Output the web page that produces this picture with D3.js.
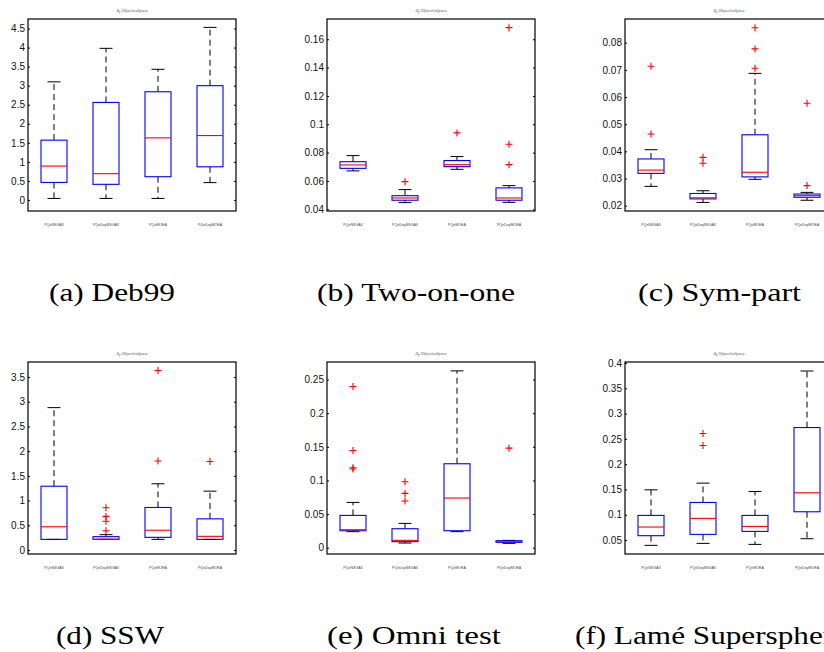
<!DOCTYPE html>
<html>
<head>
<meta charset="utf-8">
<script src="https://cdn.jsdelivr.net/npm/d3@7"></script>
<style>
  html, body { margin: 0; padding: 0; background: #fff; }
  svg { display: block; }
  .tick text { font-family: "Liberation Sans", Arial, Helvetica, sans-serif; }
  .caption { font-family: "Liberation Serif", "Times New Roman", "DejaVu Serif", serif; }
  .mlabel { font-family: "Liberation Sans", Arial, sans-serif; }
  .ptitle { font-family: "Liberation Serif", "DejaVu Serif", serif; font-style: italic; }
</style>
</head>
<body>
<svg id="fig" width="824" height="652"></svg>
<script>
// Methods compared in every panel
const methods = ["PQeNSGAII", "PQeDoyNSGAII", "PQeMOEA", "PQeDoyMOEA"];

// Box statistics per method: [lower whisker, Q1, median, Q3, upper whisker]
const deb99Stats = [
  [0.04, 0.46, 0.89, 1.57, 3.10],
  [0.04, 0.41, 0.69, 2.56, 3.98],
  [0.04, 0.61, 1.63, 2.84, 3.43],
  [0.455, 0.87, 1.69, 3.00, 4.53]
];
const deb99Outliers = [[], [], [], []];
const deb99Ticks = [0, 0.5, 1, 1.5, 2, 2.5, 3, 3.5, 4, 4.5];
const deb99Lim = [-0.29, 4.75];

const twoOnOneStats = [
  [0.0671, 0.0689, 0.0713, 0.0736, 0.0779],
  [0.0447, 0.0464, 0.0480, 0.0496, 0.0539],
  [0.0682, 0.0701, 0.0715, 0.0744, 0.0772],
  [0.0449, 0.0464, 0.0480, 0.0551, 0.0567]
];
const twoOnOneOutliers = [[], [0.0595], [0.0939], [0.1682, 0.0859, 0.0715]];
const twoOnOneTicks = [0.04, 0.06, 0.08, 0.1, 0.12, 0.14, 0.16];
const twoOnOneLim = [0.0388, 0.1743];

const symPartStats = [
  [0.0271, 0.0319, 0.0331, 0.0372, 0.0406],
  [0.0212, 0.0225, 0.0229, 0.0245, 0.0255],
  [0.0297, 0.0306, 0.0323, 0.0461, 0.0687],
  [0.0220, 0.0231, 0.0237, 0.0243, 0.0249]
];
const symPartOutliers = [[0.0713, 0.0464], [0.0378, 0.0356], [0.0855, 0.0777, 0.0706], [0.0577, 0.0274]];
const symPartTicks = [0.02, 0.03, 0.04, 0.05, 0.06, 0.07, 0.08];
const symPartLim = [0.01805, 0.0887];

const sswStats = [
  [0.215, 0.215, 0.47, 1.29, 2.88],
  [0.215, 0.215, 0.22, 0.27, 0.31],
  [0.215, 0.256, 0.40, 0.86, 1.34],
  [0.215, 0.215, 0.276, 0.63, 1.19]
];
const sswOutliers = [[], [0.855, 0.68, 0.58, 0.39], [3.63, 1.80], [1.79]];
const sswTicks = [0, 0.5, 1, 1.5, 2, 2.5, 3, 3.5];
const sswLim = [-0.081, 3.803];

const omniStats = [
  [0.0238, 0.0252, 0.0267, 0.0480, 0.0673],
  [0.0069, 0.0089, 0.0109, 0.0282, 0.0361],
  [0.0238, 0.0252, 0.0738, 0.1248, 0.2629],
  [0.0064, 0.0079, 0.0089, 0.0104, 0.0109]
];
const omniOutliers = [[0.2396, 0.1446, 0.1188, 0.1170], [0.0980, 0.0807, 0.0693], [], [0.1480]];
const omniTicks = [0, 0.05, 0.1, 0.15, 0.2, 0.25];
const omniLim = [-0.0094, 0.2761];

const lameStats = [
  [0.0395, 0.0586, 0.0757, 0.0987, 0.1493],
  [0.0434, 0.0612, 0.0928, 0.1243, 0.1625],
  [0.0414, 0.0671, 0.0770, 0.0987, 0.1460],
  [0.0526, 0.1059, 0.1434, 0.2724, 0.3842]
];
const lameOutliers = [[], [0.2605, 0.2368], [], []];
const lameTicks = [0.05, 0.1, 0.15, 0.2, 0.25, 0.3, 0.35, 0.4];
const lameLim = [0.0224, 0.402];

// Sub-figure captions
const captions = ["(a) Deb99", "(b) Two-on-one", "(c) Sym-part", "(d) SSW", "(e) Omni test", "(f) Lamé Supersphere"];

const panels = [
  { stats: deb99Stats, out: deb99Outliers, ticks: deb99Ticks, lim: deb99Lim, x: 28, y: 19, cap: captions[0], cx: 49, cw: 126 },
  { stats: twoOnOneStats, out: twoOnOneOutliers, ticks: twoOnOneTicks, lim: twoOnOneLim, x: 327, y: 19, cap: captions[1], cx: 317, cw: 198 },
  { stats: symPartStats, out: symPartOutliers, ticks: symPartTicks, lim: symPartLim, x: 625, y: 19, cap: captions[2], cx: 638, cw: 163 },
  { stats: sswStats, out: sswOutliers, ticks: sswTicks, lim: sswLim, x: 28, y: 362, cap: captions[3], cx: 56, cw: 108 },
  { stats: omniStats, out: omniOutliers, ticks: omniTicks, lim: omniLim, x: 327, y: 362, cap: captions[4], cx: 327, cw: 174 },
  { stats: lameStats, out: lameOutliers, ticks: lameTicks, lim: lameLim, x: 625, y: 362, cap: captions[5], cx: 575, cw: 272 }
];

const W = 208, H = 192;
const svg = d3.select("#fig");
const fmt = d3.format("~g");

panels.forEach(p => {
  const g = svg.append("g").attr("transform", `translate(${p.x},${p.y})`);
  const x = d3.scaleLinear().domain([0.5, 4.5]).range([0, W]);
  const y = d3.scaleLinear().domain(p.lim).range([H, 0]);

  // inward ticks on both vertical sides, labels on the left only
  const left = g.append("g").call(
    d3.axisLeft(y).tickValues(p.ticks).tickSize(-2).tickPadding(3).tickFormat(fmt));
  left.select(".domain").remove();
  left.attr("font-family", null);
  left.selectAll("text").attr("font-size", 10).attr("fill", "#111");
  left.selectAll("line").attr("stroke", "#000");

  const right = g.append("g").attr("transform", `translate(${W},0)`).call(
    d3.axisRight(y).tickValues(p.ticks).tickSize(-2).tickFormat(""));
  right.select(".domain").remove();

  // axes frame
  g.append("rect").attr("width", W).attr("height", H)
    .attr("fill", "none").attr("stroke", "#000").attr("stroke-width", 1.2);

  const halfBox = x(1.25) - x(1);
  const halfCap = x(1.125) - x(1);

  p.stats.forEach((s, i) => {
    const cx = x(i + 1);
    const [lo, q1, med, q3, hi] = s;
    // dashed whiskers
    g.append("line").attr("x1", cx).attr("x2", cx).attr("y1", y(q3)).attr("y2", y(hi))
      .attr("stroke", "#000").attr("stroke-dasharray", "6,4");
    g.append("line").attr("x1", cx).attr("x2", cx).attr("y1", y(q1)).attr("y2", y(lo))
      .attr("stroke", "#000").attr("stroke-dasharray", "6,4");
    // whisker caps
    [lo, hi].forEach(v => {
      g.append("line").attr("x1", cx - halfCap).attr("x2", cx + halfCap)
        .attr("y1", y(v)).attr("y2", y(v)).attr("stroke", "#000").attr("stroke-width", 1);
    });
    // box
    g.append("rect").attr("x", cx - halfBox).attr("width", 2 * halfBox)
      .attr("y", y(q3)).attr("height", Math.max(0.5, y(q1) - y(q3)))
      .attr("fill", "none").attr("stroke", "#0000ff").attr("stroke-width", 1.1);
    // median
    g.append("line").attr("x1", cx - halfBox).attr("x2", cx + halfBox)
      .attr("y1", y(med)).attr("y2", y(med)).attr("stroke", "#ff0000").attr("stroke-width", 1.1);
    // outliers
    p.out[i].forEach(v => {
      const yy = y(v);
      g.append("path").attr("d", `M${cx - 3.5},${yy}H${cx + 3.5}M${cx},${yy - 3.5}V${yy + 3.5}`)
        .attr("stroke", "#ff0000").attr("stroke-width", 1.1).attr("fill", "none");
    });
    // method label
    g.append("text").attr("class", "mlabel").attr("x", cx).attr("y", H + 15)
      .attr("text-anchor", "middle").attr("font-size", 3.6)
      .attr("fill", "#444").text(methods[i]);
  });

  // small panel title
  const t = g.append("text").attr("class", "ptitle").attr("x", W / 2).attr("y", -7)
    .attr("text-anchor", "middle").attr("font-size", 4.2).attr("fill", "#555");
  t.append("tspan").text("Δ");
  t.append("tspan").attr("font-size", 3).attr("dy", 1).text("p");
  t.append("tspan").attr("dy", -1).text(" ObjectiveSpace");

  // caption below panel
  svg.append("text").attr("class", "caption").attr("x", p.cx).attr("y", p.y + 282)
    .attr("font-size", 25).attr("fill", "#000")
    .attr("textLength", p.cw).attr("lengthAdjust", "spacingAndGlyphs")
    .text(p.cap);
});
</script>
</body>
</html>
